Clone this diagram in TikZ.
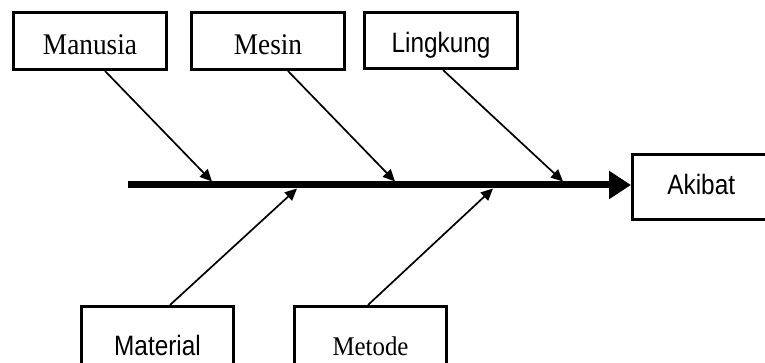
\documentclass[tikz,border=0pt]{standalone}
\usepackage{fontspec}
\setmainfont{Liberation Serif}
\newfontfamily\narrowsans{Liberation Sans}[FakeStretch=0.87]
\newfontfamily\tallserif{Liberation Serif}[FakeStretch=0.91]
\newfontfamily\narrowserif{Liberation Serif}[FakeStretch=0.92]
\usetikzlibrary{arrows.meta}

\tikzset{
  causebox/.style={draw, line width=3pt, rectangle, inner sep=0pt,
    minimum width=153pt, minimum height=57pt,
    font=\tallserif\fontsize{30}{33}\selectfont},
  sanslabel/.style={font=\narrowsans\fontsize{28}{32}\selectfont},
  serifnarrow/.style={font=\narrowserif\fontsize{27}{30}\selectfont},
  spine/.style={line width=7pt, -{Triangle[length=22pt,width=27pt]}},
  branch/.style={line width=1.7pt, -{Triangle[length=12pt,width=11pt]}}
}

\begin{document}
\begin{tikzpicture}[x=1pt, y=-1pt]
  \useasboundingbox (0,0) rectangle (765,363);

  % cause boxes along the top
  \node[causebox, text height=28pt, text depth=0pt] (manusia) at (90,41) {Manusia};
  \node[causebox, text height=28pt, text depth=0pt] (mesin) at (268,41) {Mesin};
  \node[causebox, sanslabel, minimum height=56pt, text height=25pt, text depth=0pt]
    (lingkung) at (441,40.5) {Lingkung};

  % cause boxes along the bottom (running past the lower edge)
  \node[causebox, sanslabel, minimum width=152pt, minimum height=97pt,
    text height=0pt, text depth=0pt] (material) at (157.5,355) {Material};
  \node[causebox, serifnarrow, minimum width=152pt, minimum height=97pt,
    text height=0pt, text depth=0pt] (metode) at (370.5,355) {Metode};

  % effect box (running past the right edge)
  \node[causebox, sanslabel, minimum width=137.5pt, minimum height=65pt,
    text height=16pt, text depth=0pt] (akibat) at (701.25,187) {Akibat};

  % main spine
  \coordinate (tail) at (128,185);
  \draw[spine] (tail) -- (tail -| akibat.west);

  % points where the branches meet the spine
  \coordinate (jmanusia)  at (212,181.5);
  \coordinate (jmesin)    at (395,181.5);
  \coordinate (jlingkung) at (563,181.5);
  \coordinate (jmaterial) at (297,188.5);
  \coordinate (jmetode)   at (493,188.5);

  % branches
  \draw[branch] ([xshift=15pt]manusia.south) -- (jmanusia);
  \draw[branch] ([xshift=20pt]mesin.south) -- (jmesin);
  \draw[branch] ([xshift=2pt]lingkung.south) -- (jlingkung);
  \draw[branch] ([xshift=12.5pt]material.north) -- (jmaterial);
  \draw[branch] ([xshift=-2.5pt]metode.north) -- (jmetode);
\end{tikzpicture}
\end{document}
